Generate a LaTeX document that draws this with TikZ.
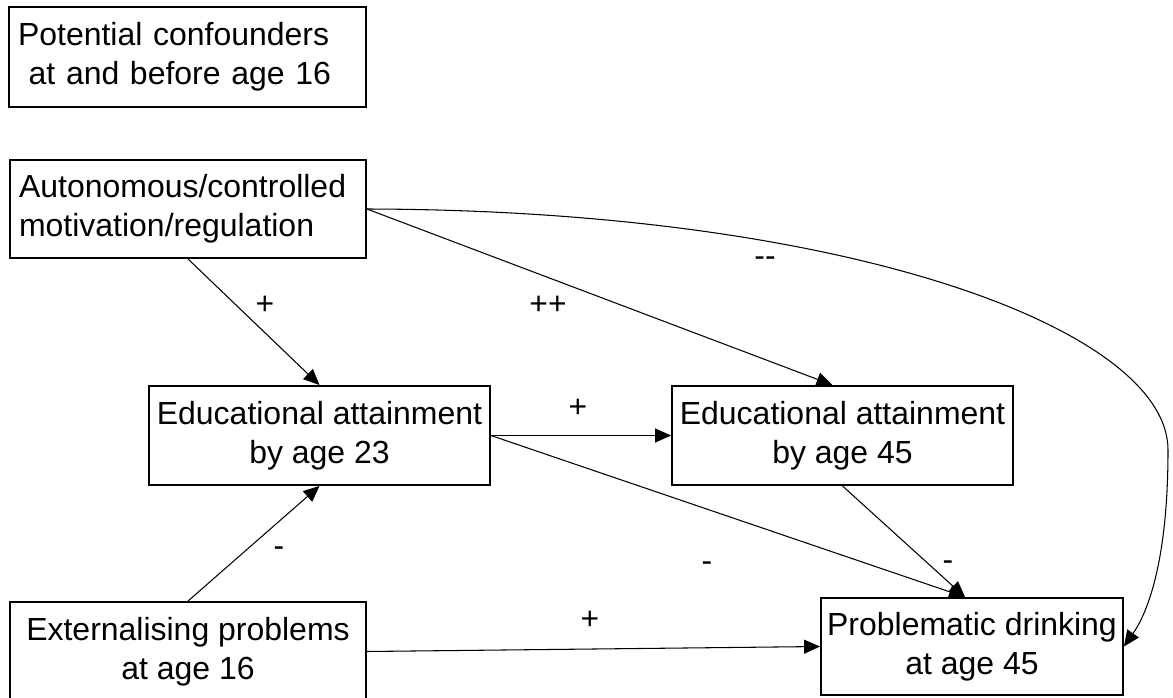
\documentclass[tikz,border=0pt]{standalone}
\usepackage{fontspec}
\setmainfont{Liberation Sans}
\usepackage{xcolor}
\usepackage{tikz}
\usetikzlibrary{arrows.meta}

\tikzset{
  varbox/.style={draw, rectangle, line width=1.1pt, inner sep=0pt, align=center, font=\fontsize{18.2pt}{22.2pt}\selectfont},
  pathlink/.style={-{Triangle[length=0.32cm, width=0.28cm]}, line width=0.6pt},
  signlabel/.style={inner sep=0pt, font=\fontsize{18.1pt}{22.2pt}\selectfont},
}

\begin{document}
\begin{tikzpicture}[x=0.02cm, y=-0.02cm]%
\useasboundingbox (0, 0) rectangle (1173, 697);%
% boxes
\node[varbox, minimum width=7.14cm, minimum height=2.0cm, align=left, text width=6.78cm] (conf) at (187.5, 57) {Potential confounders\\\ at and before age 16};%
\node[varbox, minimum width=7.12cm, minimum height=1.96cm, align=left, text width=6.76cm] (motiv) at (188, 209) {Autonomous/controlled\\motivation/regulation};%
\node[varbox, minimum width=6.82cm, minimum height=1.98cm] (edu23) at (319.5, 435.5) {Educational attainment\\by age 23};%
\node[varbox, minimum width=6.82cm, minimum height=1.98cm] (edu45) at (842.5, 435.5) {Educational attainment\\by age 45};%
\node[varbox, minimum width=7.12cm, minimum height=1.98cm] (extern) at (188, 651.5) {Externalising problems\\at age 16};%
\node[varbox, minimum width=6.04cm, minimum height=1.94cm] (drink) at (972, 646.5) {Problematic drinking\\at age 45};%
% paths
\coordinate (bend) at (1168, 450);%
\draw[pathlink] (motiv.south) -- (edu23.north);%
\draw[pathlink] (motiv.east) -- ([xshift=-0.2cm]edu45.north);%
\draw[pathlink] (motiv.east) .. controls (850, 210) and (1168, 330) .. (bend) .. controls (1168, 560) and (1148, 612) .. (drink.east);%
\draw[pathlink] (edu23.east) -- (edu45.west);%
\draw[pathlink] (edu23.east) -- ([xshift=-0.14cm]drink.north);%
\draw[pathlink] (edu45.south) -- ([xshift=-0.14cm]drink.north);%
\draw[pathlink] (extern.north) -- (edu23.south);%
\draw[pathlink] (extern.east) -- (drink.west);%
% signs
\node[signlabel] (s1) at (265, 305) {+};%
\node[signlabel] (s2) at (548, 305) {++};%
\node[signlabel] (s3) at (765, 262) {{-}{-}};%
\node[signlabel] (s4) at (578, 408) {+};%
\node[signlabel] (s5) at (279, 552) {-};%
\node[signlabel] (s6) at (707, 567) {-};%
\node[signlabel] (s7) at (948, 566) {-};%
\node[signlabel] (s8) at (590, 620) {+};%
\end{tikzpicture}
\end{document}
